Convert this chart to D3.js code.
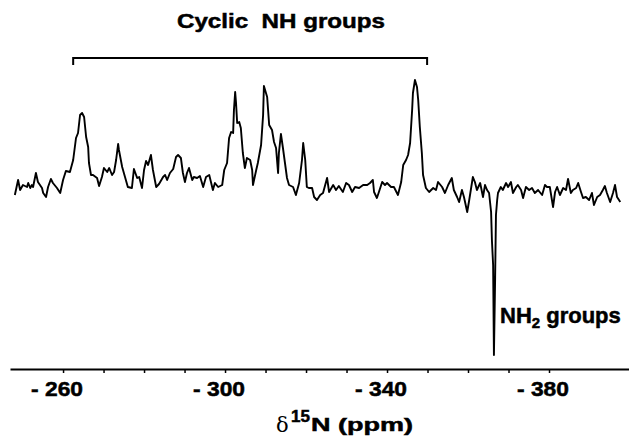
<!DOCTYPE html>
<html><head><meta charset="utf-8">
<script src="https://cdn.jsdelivr.net/npm/d3@7/dist/d3.min.js"></script>
<style>body{margin:0;background:#fff}svg{display:block}.b{stroke:#000;stroke-width:0.5px}</style>
</head><body>
<svg id="c" width="629" height="439"></svg>
<script>
// chemical shift (ppm) and intensity (arbitrary units)
const ppm = [
-248.1,-248.9,-249.4,-250.1,-251.1,-251.4,-251.9,-252.3,-252.6,-253.3,-253.8,-254.8,-255.1,-255.8,-256.3,-257.0,-257.5,-258.5,-259.3,-260.0,-260.7,-261.7,-262.5,-263.2,-263.7,-264.2,-264.7,-265.2,-265.7,-266.2,-266.4,-266.9,-267.4,-268.4,-268.9,-269.6,-270.1,-270.9,-271.4,-272.1,-272.6,-273.1,-273.6,-273.8,-274.6,-275.3,-276.0,-277.0,-277.5,-278.3,-278.8,-279.5,-280.0,-280.5,-281.0,-281.7,-282.2,-283.0,-283.7,
-284.7,-285.2,-285.7,-286.4,-287.2,-287.9,-288.4,-289.1,-289.6,-290.1,-290.6,-291.1,-291.9,-292.3,-293.1,-293.8,-294.6,-295.3,-296.1,-297.0,-297.5,-298.3,-299.3,-299.8,-300.5,-301.0,-301.5,-302.0,-302.2,-302.5,-302.7,-303.0,-303.5,-303.9,-304.4,-304.9,-305.4,-306.2,-306.7,-306.9,-307.7,-308.1,-308.9,-309.4,-309.6,-310.4,-310.9,-311.6,-312.1,-312.6,-313.1,-313.3,-313.8,-314.3,-314.8,-315.3,-315.8,-316.8,-317.5,-318.3,-319.0,-319.3,-319.8,-320.2,-320.7,
-321.5,-322.0,-322.7,-323.5,-324.2,-325.2,-325.7,-326.7,-327.4,-328.1,-329.1,-329.9,-330.6,-331.4,-332.1,-333.1,-334.1,-335.1,-335.8,-336.5,-336.8,-337.5,-338.0,-338.8,-339.5,-340.0,-341.0,-341.7,-342.7,-343.5,-344.0,-344.7,-345.2,-345.7,-346.2,-346.4,-346.9,-347.4,-347.7,-348.1,-348.6,-348.9,-349.6,-350.4,-351.4,-352.1,-352.6,-353.6,-354.3,-355.1,-356.0,-356.5,-357.3,-357.8,
-358.5,-359.0,-359.8,-360.3,-361.2,-361.7,-362.2,-363.0,-363.7,-364.2,-364.7,-365.2,-365.7,-365.9,-366.2,-366.4,-366.7,-366.9,-367.2,-367.4,-368.1,-368.6,-369.4,-369.9,-370.6,-371.1,-371.9,-372.3,-373.1,-373.6,-374.3,-375.1,-375.8,-376.5,-377.3,-378.3,-379.0,-379.5,-380.2,-381.0,-381.5,-382.0,-382.7,-383.5,-384.2,-384.7,-385.4,-385.9,-386.7,-387.2,-387.9,-388.4,-389.1,-389.9,-390.6,-391.1,-391.9,-392.6,-393.3,-393.8,-394.3,-395.1,-395.8,-396.3,-396.8,-397.6
];
const intensity = [
-7,8,-2,3,1,5,0,3,1,15,6,0,-5,-9,1,9,5,0,-5,8,17,16,28,50,55,73,75,71,51,41,25,13,13,10,2,11,20,16,20,13,16,28,44,38,21,11,1,0,19,10,11,0,18,27,23,33,18,1,4,
11,13,8,15,19,31,33,30,15,6,15,20,8,11,10,12,1,11,13,-2,5,1,3,18,25,50,56,55,78,96,86,65,66,60,35,20,30,28,18,3,18,25,43,73,102,91,63,58,46,40,15,35,54,40,25,10,3,1,-7,5,28,45,28,1,0,
0,-9,-12,-7,-5,10,-4,3,-2,2,-4,5,3,-4,1,0,3,3,5,8,-4,-10,-4,6,3,5,1,1,-7,6,23,28,33,45,78,95,108,101,88,61,35,13,0,-4,0,-2,6,1,-5,3,10,-2,-9,-14,
-2,-9,-24,-12,11,6,-2,5,-9,3,-2,-5,-24,-52,-77,-167,-89,-27,-12,-5,1,-2,5,1,6,-5,1,3,-2,-10,1,-2,0,-5,-2,-7,3,1,1,-19,-4,1,-7,0,-2,9,-5,-2,0,5,-4,-10,-9,-12,-5,-17,-9,-7,-2,2,-5,-14,-5,3,-9,-14
];
const tickValues = [-260,-270,-280,-290,-300,-310,-320,-330,-340,-350,-360,-370,-380];
const tickLabels = [-260,-300,-340,-380];
const cyclicRange = [-262.5,-349.9];
const title = "Cyclic  NH groups";

const svg = d3.select("#c");
const x = d3.scaleLinear().domain([-246.9,-400]).range([10,630]);
const y = d3.scaleLinear().domain([-170,110]).range([358,78]);
const axisY = 369;
const sans = "Liberation Sans, Arial, sans-serif";

// axis
const ax = svg.append("g").attr("transform",`translate(0,${axisY})`)
  .call(d3.axisBottom(x).tickValues(tickValues).tickSize(4).tickSizeOuter(0).tickFormat(""));
ax.select(".domain").attr("stroke","#000").attr("stroke-width",2);
ax.selectAll(".tick line").attr("stroke","#000").attr("stroke-width",1.5);

svg.append("g").selectAll("text").data(tickLabels).join("text")
  .attr("class","b")
  .attr("x",d=>x(d)+20).attr("y",395.5)
  .attr("text-anchor","end")
  .attr("font-family",sans).attr("font-weight","bold")
  .attr("font-size",21)
  .attr("textLength",52).attr("lengthAdjust","spacingAndGlyphs")
  .text(d=>"- "+Math.abs(d));

// axis title
const t = svg.append("g");
t.append("text").attr("x",276).attr("y",432).attr("font-family","DejaVu Serif, serif").attr("font-size",21).text("δ");
t.append("text").attr("class","b").attr("x",291).attr("y",422).attr("font-family",sans).attr("font-weight","bold").attr("font-size",17).text("15");
t.append("text").attr("class","b").attr("x",311).attr("y",431).attr("font-family",sans).attr("font-weight","bold").attr("font-size",19)
  .attr("textLength",102).attr("lengthAdjust","spacingAndGlyphs").text("N (ppm)");

// spectrum
const line = d3.line().x((d,i)=>x(ppm[i])).y((d,i)=>y(intensity[i]));
svg.append("path").datum(ppm).attr("d",line).attr("fill","none")
  .attr("stroke","#000").attr("stroke-width",1.9).attr("stroke-linejoin","round");

// bracket
const bx0 = x(cyclicRange[0]), bx1 = x(cyclicRange[1]);
svg.append("path").attr("d",`M${bx0},65V58H${bx1}V65`).attr("fill","none").attr("stroke","#000").attr("stroke-width",2);

svg.append("text").attr("class","b").attr("x",177).attr("y",28)
  .attr("font-family",sans).attr("font-weight","bold").attr("font-size",21)
  .attr("textLength",208).attr("lengthAdjust","spacingAndGlyphs")
  .style("white-space","pre").text(title);

const nh2 = svg.append("text").attr("class","b").attr("x",500).attr("y",323)
  .attr("font-family",sans).attr("font-weight","bold").attr("font-size",22);
nh2.append("tspan").text("NH");
nh2.append("tspan").attr("font-size",15).attr("dy",5).text("2");
nh2.append("tspan").attr("dy",-5).text(" groups");
</script>
</body></html>
